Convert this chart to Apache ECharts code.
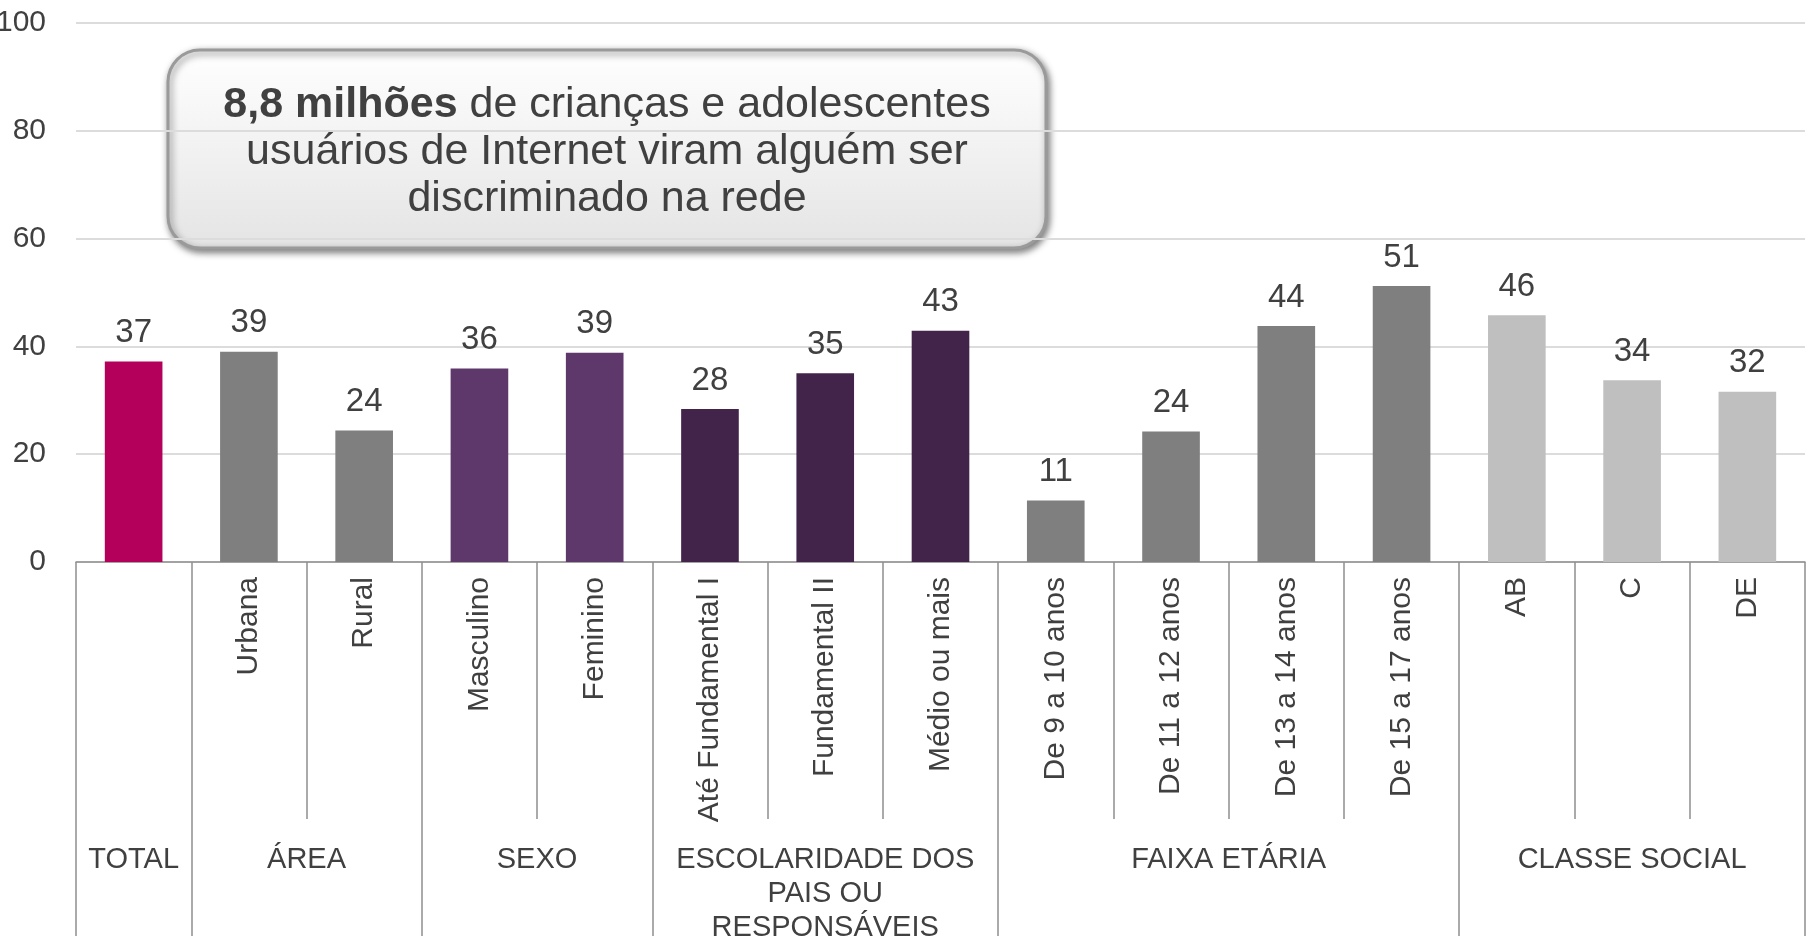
<!DOCTYPE html>
<html>
<head>
<meta charset="utf-8">
<script src="https://cdn.jsdelivr.net/npm/echarts@6/dist/echarts.min.js"></script>
<style>
html,body{margin:0;padding:0;background:#fff;}
#chart{width:1812px;height:937px;}
</style>
</head>
<body>
<div id="chart"></div>
<script>
// ---- data ----
const categories = ['', 'Urbana', 'Rural', 'Masculino', 'Feminino', 'Até Fundamental I', 'Fundamental II', 'Médio ou mais', 'De 9 a 10 anos', 'De 11 a 12 anos', 'De 13 a 14 anos', 'De 15 a 17 anos', 'AB', 'C', 'DE'];
const values = [37.2, 39.0, 24.4, 35.9, 38.8, 28.4, 35.0, 42.9, 11.4, 24.2, 43.8, 51.2, 45.8, 33.7, 31.6];
const groups = ['TOTAL', 'ÁREA', 'SEXO', 'ESCOLARIDADE DOS\nPAIS OU\nRESPONSÁVEIS', 'FAIXA ETÁRIA', 'CLASSE SOCIAL'];
const groupSizes = [1, 2, 2, 3, 4, 3];
const yMin = 0, yMax = 100, yStep = 20;
const noteBold = '8,8 milhões';
const noteText = ' de crianças e adolescentes\nusuários de Internet viram alguém ser\ndiscriminado na rede';

// ---- styles ----
const groupColors = ['#B4005A', '#7F7F7F', '#5F386B', '#42244A', '#7F7F7F', '#BFBFBF'];
const FONT = 'Liberation Sans, Arial, sans-serif';
const TXT = '#404040';
const LINE = '#8E8E8E';

// colour per bar from its group
const barColors = [];
groupSizes.forEach((n, g) => { for (let i = 0; i < n; i++) barColors.push(groupColors[g]); });

// secondary (group) axis: half-unit points, labels at group centres, ticks at group edges
const halfPoints = [];
for (let i = 0; i <= categories.length * 2; i++) halfPoints.push('');
const groupEdgeIdx = new Set([0]);
let acc = 0;
groupSizes.forEach((n, g) => {
  halfPoints[acc * 2 + n] = groups[g];
  acc += n;
  groupEdgeIdx.add(acc * 2);
});

const chart = echarts.init(document.getElementById('chart'), null, {renderer: 'canvas'});
chart.setOption({
  animation: false,
  backgroundColor: '#ffffff',
  textStyle: {fontFamily: FONT},
  grid: {left: 76, right: 7, top: 23, bottom: 375, containLabel: false, outerBoundsMode: 'none'},
  xAxis: [
    {
      type: 'category',
      data: categories,
      position: 'bottom',
      axisLine: {show: true, lineStyle: {color: LINE, width: 1.5}},
      axisTick: {show: true, length: 257, alignWithLabel: false, interval: 0, lineStyle: {color: LINE, width: 1.5}},
      axisLabel: {interval: 0, rotate: 90, margin: 15, color: TXT, fontSize: 30, fontFamily: FONT},
      splitLine: {show: false}
    },
    {
      type: 'category',
      data: halfPoints,
      boundaryGap: false,
      position: 'bottom',
      offset: 0,
      axisLine: {show: false},
      axisTick: {show: true, length: 374, interval: function (idx) { return groupEdgeIdx.has(idx); }, lineStyle: {color: LINE, width: 1.5}},
      axisLabel: {interval: 0, margin: 281, color: TXT, fontSize: 29, lineHeight: 34, fontFamily: FONT, align: 'center'},
      splitLine: {show: false}
    }
  ],
  yAxis: {
    type: 'value',
    min: yMin, max: yMax, interval: yStep,
    axisLine: {show: false},
    axisTick: {show: false},
    axisLabel: {color: TXT, fontSize: 30, margin: 30, fontFamily: FONT},
    splitLine: {show: true, lineStyle: {color: '#DCDCDC', width: 2}}
  },
  series: [{
    type: 'bar',
    xAxisIndex: 0,
    barWidth: '50%',
    data: values.map((v, i) => ({value: v, itemStyle: {color: barColors[i]}})),
    label: {
      show: true, position: 'top', distance: 12,
      color: TXT, fontSize: 33, fontFamily: FONT,
      formatter: p => String(Math.round(p.value))
    }
  }],
  graphic: [{
    type: 'group',
    z: 100,
    children: [
      {
        type: 'rect',
        shape: {x: 168, y: 50, width: 878, height: 198, r: 32},
        style: {
          fill: new echarts.graphic.LinearGradient(0, 0, 0, 1, [
            {offset: 0, color: '#FFFFFF'},
            {offset: 1, color: '#E4E4E4'}
          ]),
          stroke: '#9A9A9A',
          lineWidth: 3,
          shadowBlur: 7,
          shadowOffsetX: 2,
          shadowOffsetY: 3,
          shadowColor: 'rgba(0,0,0,0.5)'
        }
      },
      {
        type: 'text',
        x: 607, y: 152,
        style: {
          text: '{b|' + noteBold + '}' + noteText,
          align: 'center',
          verticalAlign: 'middle',
          fill: TXT,
          fontSize: 43,
          lineHeight: 47,
          fontFamily: FONT,
          rich: {
            b: {fontWeight: 'bold', fontSize: 43, lineHeight: 47, fill: TXT, fontFamily: FONT}
          }
        }
      }
    ]
  }]
});
</script>
</body>
</html>
